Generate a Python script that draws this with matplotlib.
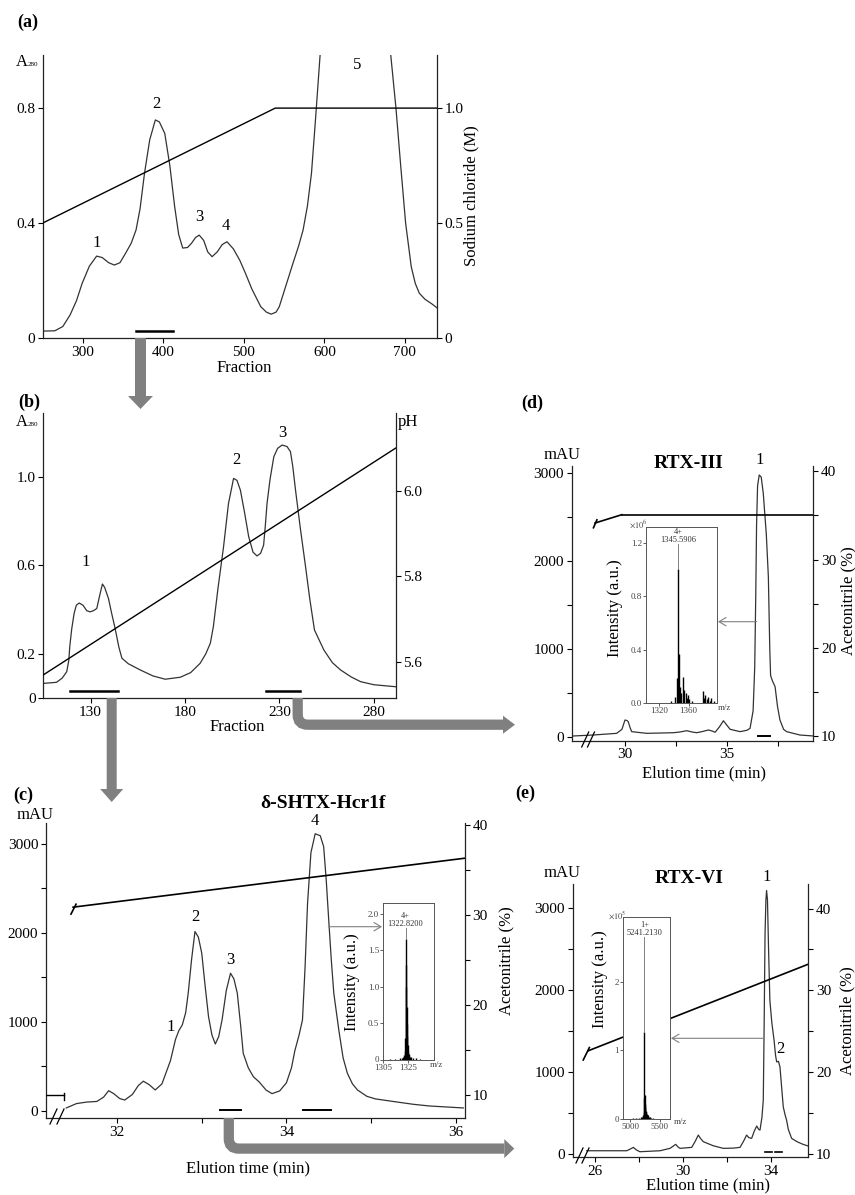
import matplotlib
matplotlib.use('Agg')
import matplotlib.pyplot as plt
from matplotlib.patches import Polygon, PathPatch
from matplotlib.path import Path

plt.rcParams['font.family'] = ['Liberation Serif', 'DejaVu Serif']
plt.rcParams['mathtext.fontset'] = 'stix'

W, H = 855, 1195
GREY = '#808080'
LINE = '#333333'

# ---------------- (a) anion exchange, A280 vs fraction
a_fraction = [250, 265, 275, 284, 292, 299, 308, 317, 324, 332, 339, 346, 353, 360, 366,
              371, 376.5, 383, 390, 395, 401.7, 408, 414, 419, 424, 430, 435, 440, 444.5,
              450, 455, 460.5, 467, 473, 479, 487, 495, 502, 510, 521, 528, 534, 540, 544,
              552, 561, 568, 573.6, 579, 584, 589, 594.6, 600, 620, 660, 682.7, 689, 695,
              701, 708, 713, 718, 725, 733, 740]
a_a280 = [0.024, 0.025, 0.04, 0.08, 0.13, 0.19, 0.25, 0.285, 0.28, 0.262, 0.254, 0.262,
          0.295, 0.33, 0.376, 0.45, 0.573, 0.69, 0.759, 0.752, 0.712, 0.6, 0.457, 0.36,
          0.313, 0.315, 0.33, 0.35, 0.358, 0.34, 0.3, 0.283, 0.3, 0.325, 0.335, 0.31, 0.27,
          0.225, 0.17, 0.109, 0.09, 0.083, 0.09, 0.109, 0.18, 0.26, 0.32, 0.376, 0.46,
          0.573, 0.76, 0.98, 1.2, 1.6, 1.6, 0.98, 0.8, 0.596, 0.4, 0.248, 0.19, 0.156,
          0.135, 0.12, 0.105]
a_nacl_fraction = [250, 539, 740]
a_nacl = [0.5, 1.0, 1.0]
a_peak_names = ['1', '2', '3', '4', '5']
a_peak_x = [317, 391, 445, 478, 641]
a_peak_y = [0.33, 0.815, 0.42, 0.39, 0.95]
a_pool = [366, 412]

# ---------------- (b) cation exchange, A280 vs fraction
b_fraction = [105, 112, 115, 117.4, 118.5, 119, 120, 121.3, 122.5, 124, 126, 128, 129.8,
              131.5, 133.3, 135, 136.3, 137.5, 139.5, 141, 143, 145, 146.6, 150, 156.3, 163,
              169.5, 177.5, 183, 188, 191, 193.4, 195, 197.5, 200.4, 203, 205.7, 207.5,
              209.3, 211.5, 213.7, 216, 218.1, 220, 221.6, 222.5, 223.4, 225, 227, 229,
              231.4, 234, 235.8, 237, 238.5, 241, 243.8, 246, 248.5, 253.5, 258, 262.3, 268,
              272.9, 280, 291.5]
b_a280 = [0.066, 0.071, 0.09, 0.119, 0.17, 0.232, 0.31, 0.383, 0.42, 0.43, 0.42, 0.395,
          0.39, 0.395, 0.405, 0.47, 0.516, 0.5, 0.45, 0.39, 0.315, 0.23, 0.18, 0.155, 0.127,
          0.1, 0.085, 0.094, 0.115, 0.157, 0.2, 0.248, 0.323, 0.5, 0.685, 0.88, 0.994,
          0.985, 0.941, 0.84, 0.73, 0.66, 0.643, 0.655, 0.692, 0.78, 0.88, 0.99, 1.092,
          1.13, 1.145, 1.138, 1.115, 1.05, 0.94, 0.77, 0.594, 0.45, 0.308, 0.217, 0.16,
          0.127, 0.095, 0.074, 0.06, 0.051]
b_ph_fraction = [105, 291.5]
b_ph = [5.57, 6.10]
b_peak_names = ['1', '2', '3']
b_peak_x = [127.5, 207, 231.6]
b_peak_y = [0.615, 1.077, 1.2]
b_pools = [[119.1, 144.4], [223, 241]]

# ---------------- (c) RP-HPLC of d-SHTX-Hcr1f
c_time = [31.40, 31.52, 31.64, 31.76, 31.84, 31.90, 31.96, 32.03, 32.09, 32.18, 32.25, 32.31,
          32.38, 32.45, 32.53, 32.63, 32.69, 32.73, 32.77, 32.81, 32.84, 32.88, 32.92, 32.96,
          33.00, 33.04, 33.08, 33.12, 33.16, 33.20, 33.24, 33.29, 33.34, 33.38, 33.42, 33.46,
          33.49, 33.55, 33.61, 33.68, 33.76, 33.83, 33.92, 34.00, 34.06, 34.10, 34.15, 34.19,
          34.22, 34.25, 34.29, 34.34, 34.40, 34.44, 34.47, 34.50, 34.53, 34.56, 34.62, 34.67,
          34.72, 34.78, 34.84, 34.95, 35.05, 35.26, 35.50, 35.69, 36.09]
c_mau = [29, 78, 95, 102, 150, 223, 190, 135, 118, 180, 280, 330, 290, 231, 300, 560, 800,
         900, 962, 1100, 1319, 1700, 2013, 1950, 1769, 1400, 1056, 850, 748, 830, 1019, 1350,
         1544, 1480, 1319, 950, 644, 480, 380, 320, 230, 190, 220, 311, 480, 673, 850, 1019,
         1600, 2332, 2900, 3112, 3090, 2969, 2600, 2144, 1700, 1319, 900, 592, 420, 300, 231,
         160, 131, 102, 70, 51, 29]
c_grad_time = [31.48, 36.11]
c_grad = [30.87, 36.3]
c_peak_names = ['1', '2', '3', '4']
c_peak_x = [32.63, 32.93, 33.34, 34.34]
c_peak_y = [943, 2174, 1694, 3250]
c_pools = [[33.21, 33.46], [34.2, 34.53]]
c_ms_mz = [1310, 1314, 1318, 1320, 1321, 1321.6, 1322.2, 1322.5, 1322.8, 1323.1, 1323.4,
           1323.7, 1324.0, 1324.3, 1324.6, 1324.9, 1325.3, 1325.8, 1326.5, 1327.5, 1329,
           1331, 1334]
c_ms_int = [0.01, 0.01, 0.015, 0.02, 0.03, 0.06, 0.12, 0.3, 1.65, 1.3, 1.0, 0.72, 0.48,
            0.32, 0.2, 0.12, 0.08, 0.05, 0.04, 0.03, 0.02, 0.015, 0.01]

# ---------------- (d) RTX-III
d_time = [27.46, 28.44, 29.59, 29.85, 30.0, 30.1, 30.16, 30.25, 30.33, 31.07, 32.38, 32.7,
          33.04, 33.3, 33.53, 33.8, 34.1, 34.3, 34.43, 34.65, 34.84, 35.0, 35.17, 35.66, 36.0,
          36.15, 36.3, 36.38, 36.43, 36.47, 36.52, 36.6, 36.7, 36.8, 36.95, 37.05, 37.12,
          37.16, 37.25, 37.38, 37.5, 37.62, 37.8, 37.95, 38.6, 39.26]
d_mau = [15, 26, 45, 90, 196, 190, 177, 110, 64, 45, 52, 60, 75, 60, 52, 65, 83, 70, 57, 120,
         188, 140, 91, 64, 80, 102, 300, 800, 1600, 2400, 2850, 2974, 2950, 2766, 2300, 1821,
         1000, 700, 640, 574, 350, 196, 90, 64, 26, 15]
d_grad_time = [29.84, 39.26]
d_grad = [35.08, 35.08]
d_peak_names = ['1']
d_peak_x = [36.64]
d_peak_y = [3144]
d_pool = [36.56, 37.13]
d_ms_mz = [1337, 1341.7, 1344, 1345.6, 1347, 1349, 1350.5, 1352.7, 1354.5, 1356.3, 1358,
           1359.4, 1361, 1364, 1379.4, 1381, 1382.6, 1384.5, 1386, 1388, 1390.6, 1393.7]
d_ms_int = [0.02, 0.05, 0.19, 1.0, 0.37, 0.12, 0.08, 0.2, 0.1, 0.08, 0.04, 0.06, 0.03, 0.02,
            0.094, 0.04, 0.06, 0.03, 0.05, 0.02, 0.04, 0.02]

# ---------------- (e) RTX-VI
e_time = [25.62, 26.5, 27.44, 27.6, 27.74, 27.88, 28.04, 28.96, 29.41, 29.55, 29.67, 29.78,
          29.87, 30.4, 30.55, 30.7, 30.8, 30.93, 31.38, 31.84, 32.3, 32.6, 32.75, 32.9, 33.0,
          33.13, 33.25, 33.36, 33.45, 33.51, 33.6, 33.66, 33.7, 33.74, 33.78, 33.81, 33.85,
          33.9, 33.96, 34.05, 34.15, 34.22, 34.27, 34.35, 34.42, 34.5, 34.57, 34.65, 34.72,
          34.8, 34.95, 35.2, 35.45, 35.71]
e_mau = [40, 40, 40, 60, 81, 50, 28, 40, 69, 95, 118, 85, 69, 81, 150, 231, 190, 150, 101,
         69, 72, 81, 150, 231, 200, 191, 280, 341, 300, 292, 450, 657, 1600, 2685, 3100, 3212,
         3100, 2500, 1873, 1600, 1387, 1200, 1123, 1130, 1062, 800, 575, 480, 414, 300, 191,
         150, 120, 97]
e_grad_time = [25.69, 35.71]
e_grad = [22.62, 33.2]
e_peak_names = ['1', '2']
e_peak_x = [33.81, 34.42]
e_peak_y = [3373, 1286]
e_pools = [[33.74, 34.05], [34.2, 34.5]]
e_ms_mz = [5050, 5100, 5150, 5180, 5200, 5215, 5225, 5232, 5237, 5241, 5245, 5250, 5255,
           5260, 5266, 5272, 5280, 5290, 5300, 5315, 5330, 5350, 5380]
e_ms_int = [0.01, 0.015, 0.015, 0.02, 0.03, 0.04, 0.06, 0.1, 0.3, 1.27, 0.35, 0.22, 0.18,
            0.14, 0.12, 0.1, 0.07, 0.06, 0.05, 0.03, 0.02, 0.015, 0.01]

TICK = 11
LAB = 12

fig = plt.figure(figsize=(W / 100, H / 100), dpi=100)


def px_axes(l, t, r, b):
    return fig.add_axes([l / W, 1 - b / H, (r - l) / W, (b - t) / H])


def style(ax):
    ax.spines['top'].set_visible(False)
    ax.spines['right'].set_visible(False)
    for s in ax.spines.values():
        s.set_linewidth(0.9)
        s.set_color('#222222')
    ax.tick_params(which='both', direction='out', length=3.5, width=0.8, labelsize=TICK, pad=2)


def twin(ax):
    tw = ax.twinx()
    for s in ['top', 'left', 'bottom']:
        tw.spines[s].set_visible(False)
    tw.spines['right'].set_linewidth(0.9)
    tw.spines['right'].set_color('#222222')
    tw.tick_params(which='both', direction='out', length=3.5, width=0.8, labelsize=TICK, pad=2)
    return tw


def peaks(ax, names, xs, ys):
    for n, x, y in zip(names, xs, ys):
        ax.text(x, y, n, ha='center', va='center', fontsize=12)


# overlay in pixel coordinates for arrows and free text
ov = fig.add_axes([0, 0, 1, 1])
ov.set_xlim(0, W)
ov.set_ylim(H, 0)
ov.axis('off')
ov.set_zorder(20)


def down_arrow(x, y0, y1, sw, hw, hl):
    pts = [(x - sw / 2, y0), (x + sw / 2, y0), (x + sw / 2, y1 - hl), (x + hw / 2, y1 - hl),
           (x, y1), (x - hw / 2, y1 - hl), (x - sw / 2, y1 - hl)]
    ov.add_patch(Polygon(pts, closed=True, facecolor=GREY, edgecolor='none'))


def elbow_arrow(x, y0, yc, x1, hl, hw, r=10):
    p = Path([(x, y0), (x, yc - r), (x, yc), (x + r, yc), (x1 - hl, yc)],
             [Path.MOVETO, Path.LINETO, Path.CURVE3, Path.CURVE3, Path.LINETO])
    ov.add_patch(PathPatch(p, fill=False, edgecolor=GREY, lw=7.4, capstyle='butt'))
    ov.add_patch(Polygon([(x1 - hl, yc - hw / 2), (x1, yc), (x1 - hl, yc + hw / 2)],
                         closed=True, facecolor=GREY, edgecolor='none'))


def otext(x, y, s, **kw):
    kw.setdefault('ha', 'center')
    kw.setdefault('va', 'center')
    ov.text(x, y, s, **kw)


# ================= (a)
axa = px_axes(42.7, 55, 437, 338)
style(axa)
axa.plot(a_fraction, a_a280, color=LINE, lw=0.9)
axa.plot(a_pool, [0.024, 0.024], color='black', lw=1.8)
axa.set_xlim(250, 740)
axa.set_ylim(0, 0.985)
axa.set_xticks([300, 400, 500, 600, 700])
axa.set_yticks([0, 0.4, 0.8])
axa.set_yticklabels(['0', '0.4', '0.8'])
peaks(axa, a_peak_names, a_peak_x, a_peak_y)
axa2 = twin(axa)
axa2.plot(a_nacl_fraction, a_nacl, color='black', lw=1.0)
axa2.set_ylim(0, 1.231)
axa2.set_yticks([0, 0.5, 1.0])
axa2.set_yticklabels(['0', '0.5', '1.0'])

otext(28, 22, '(a)', fontsize=13, fontweight='bold')
otext(22, 62, 'A', fontsize=12)
otext(33, 64, '280', fontsize=5)
otext(244, 368, 'Fraction', fontsize=LAB)
otext(471, 196, 'Sodium chloride (M)', fontsize=LAB, rotation=90)

# ================= (b)
axb = px_axes(43.3, 413, 395.7, 698)
style(axb)
axb.plot(b_fraction, b_a280, color=LINE, lw=0.9)
for pool in b_pools:
    axb.plot(pool, [0.032, 0.032], color='black', lw=1.8)
axb.set_xlim(105, 291.5)
axb.set_ylim(0, 1.29)
axb.set_xticks([130, 180, 230, 280])
axb.set_yticks([0, 0.2, 0.6, 1.0])
axb.set_yticklabels(['0', '0.2', '0.6', '1.0'])
peaks(axb, b_peak_names, b_peak_x, b_peak_y)
axb2 = twin(axb)
axb2.plot(b_ph_fraction, b_ph, color='black', lw=1.0)
axb2.set_ylim(5.516, 6.182)
axb2.set_yticks([5.6, 5.8, 6.0])
axb2.set_yticklabels(['5.6', '5.8', '6.0'])

otext(29, 402, '(b)', fontsize=13, fontweight='bold')
otext(22, 422, 'A', fontsize=12)
otext(33, 424, '280', fontsize=5)
otext(398, 422, 'pH', fontsize=LAB, ha='left')
otext(237, 727, 'Fraction', fontsize=LAB)

# ================= (c)
axc = px_axes(46, 823, 465, 1118)
style(axc)
axc.plot(c_time, c_mau, color=LINE, lw=0.9)
for pool in c_pools:
    axc.plot(pool, [5, 5], color='black', lw=1.4)
axc.set_xlim(31.16, 36.11)
axc.set_ylim(-84, 3233)
axc.set_xticks([32, 34, 36])
axc.set_xticks([33, 35], minor=True)
axc.set_yticks([0, 1000, 2000, 3000])
axc.set_yticks([500, 1500, 2500], minor=True)
peaks(axc, c_peak_names, c_peak_x, c_peak_y)
axc2 = twin(axc)
axc2.plot(c_grad_time, c_grad, color='black', lw=1.2)
axc2.plot([31.515, 31.455], [31.2, 30.1], color='black', lw=1.2)
axc2.plot([31.16, 31.37], [10, 10], color='black', lw=1.0)
axc2.plot([31.37, 31.37], [10.3, 9.5], color='black', lw=1.0)
axc2.set_ylim(7.5, 40.2)
axc2.set_yticks([10, 20, 30, 40])
axc2.set_yticks([15, 25, 35], minor=True)

otext(23, 795, '(c)', fontsize=13, fontweight='bold')
otext(35, 815, 'mAU', fontsize=LAB)
otext(323, 803, 'δ-SHTX-Hcr1f', fontsize=14, fontweight='bold')
otext(248, 1168, 'Elution time (min)', fontsize=LAB)
otext(506, 961, 'Acetonitrile (%)', fontsize=LAB, rotation=90)
otext(352, 982, 'Intensity (a.u.)', fontsize=LAB, rotation=90)

# ================= (d)
axd = px_axes(571.7, 466, 813.3, 740.7)
style(axd)
axd.plot(d_time, d_mau, color=LINE, lw=0.9)
axd.plot(d_pool, [15, 15], color='black', lw=1.4)
axd.set_xlim(27.38, 39.26)
axd.set_ylim(-38.5, 3076)
axd.set_xticks([30, 35])
axd.set_xticks([32.5, 37.5], minor=True)
axd.set_yticks([0, 1000, 2000, 3000])
axd.set_yticks([500, 1500, 2500], minor=True)
peaks(axd, d_peak_names, d_peak_x, d_peak_y)
axd2 = twin(axd)
axd2.plot(d_grad_time, d_grad, color='black', lw=1.2)
axd2.plot([29.84, 28.53], [35.08, 34.14], color='black', lw=1.2)
axd2.plot([28.62, 28.45], [34.5, 33.6], color='black', lw=1.2)
axd2.set_ylim(9.47, 40.6)
axd2.set_yticks([10, 20, 30, 40])
axd2.set_yticks([15, 25, 35], minor=True)

otext(532, 403, '(d)', fontsize=13, fontweight='bold')
otext(562, 455, 'mAU', fontsize=LAB)
otext(689, 463, 'RTX-III', fontsize=14, fontweight='bold')
otext(704, 773, 'Elution time (min)', fontsize=LAB)
otext(848, 601, 'Acetonitrile (%)', fontsize=LAB, rotation=90)
otext(615, 608, 'Intensity (a.u.)', fontsize=LAB, rotation=90)

# ================= (e)
axe = px_axes(572.7, 884, 808.3, 1157.3)
style(axe)
axe.plot(e_time, e_mau, color=LINE, lw=0.9)
for pool in e_pools:
    axe.plot(pool, [28, 28], color='black', lw=1.2)
axe.set_xlim(24.98, 35.71)
axe.set_ylim(-40, 3292)
axe.set_xticks([26, 30, 34])
axe.set_xticks([28, 32], minor=True)
axe.set_yticks([0, 1000, 2000, 3000])
axe.set_yticks([500, 1500, 2500], minor=True)
peaks(axe, e_peak_names, e_peak_x, e_peak_y)
axe2 = twin(axe)
axe2.plot(e_grad_time, e_grad, color='black', lw=1.2)
axe2.plot([25.46, 25.74], [21.49, 23.02], color='black', lw=1.2)
axe2.set_ylim(9.6, 43.0)
axe2.set_yticks([10, 20, 30, 40])
axe2.set_yticks([15, 25, 35], minor=True)

otext(525, 793, '(e)', fontsize=13, fontweight='bold')
otext(562, 873, 'mAU', fontsize=LAB)
otext(689, 878, 'RTX-VI', fontsize=14, fontweight='bold')
otext(708, 1185, 'Elution time (min)', fontsize=LAB)
otext(847, 1021, 'Acetonitrile (%)', fontsize=LAB, rotation=90)
otext(600, 979, 'Intensity (a.u.)', fontsize=LAB, rotation=90)


# ================= mass spectra insets
def inset(box, mz, inten, xlim, ylim, yticks, ylabels, xticks, main_mz, main_top, lbl_y, lbl):
    ax = px_axes(*box)
    ax.set_facecolor('white')
    ax.vlines(mz, 0, inten, color='black', lw=1.0)
    ax.plot([main_mz, main_mz], [main_top, lbl_y], color=GREY, lw=0.7)
    ax.text(main_mz, lbl_y, lbl, ha='center', va='bottom', fontsize=6, color='#333333',
            linespacing=1.0)
    ax.set_xlim(*xlim)
    ax.set_ylim(*ylim)
    ax.set_yticks(yticks)
    ax.set_yticklabels(ylabels)
    ax.set_xticks(xticks)
    for s in ax.spines.values():
        s.set_linewidth(0.7)
        s.set_color('#555555')
    ax.tick_params(direction='out', length=2, width=0.6, labelsize=6.5, pad=1,
                   colors='#444444')
    ax.set_zorder(10)
    return ax


inset((383.3, 903.3, 434.3, 1059.5), c_ms_mz, c_ms_int, (1305, 1345.8), (0, 2.14),
      [0, 0.5, 1.0, 1.5, 2.0], ['0', '0.5', '1.0', '1.5', '2.0'], [1305, 1325],
      1322.8, 1.65, 1.8, '4+\n1322.8200')
inset((646, 526.5, 717, 703.3), d_ms_mz, d_ms_int, (1303, 1398), (0, 1.32),
      [0, 0.4, 0.8, 1.2], ['0.0', '0.4', '0.8', '1.2'], [1320, 1360],
      1345.6, 1.0, 1.19, '4+\n1345.5906')
inset((623.3, 916.7, 670, 1118.8), e_ms_mz, e_ms_int, (4888, 5673), (0, 2.95),
      [0, 1, 2], ['0', '1', '2'], [5000, 5500],
      5241, 1.27, 2.66, '1+\n5241.2130')

otext(436, 1065, 'm/z', fontsize=6.5, color='#444444')
otext(724, 708, 'm/z', fontsize=6.5, color='#444444')
otext(680, 1122, 'm/z', fontsize=6.5, color='#444444')
otext(638, 524, r'$\times10^{6}$', fontsize=6, color='#444444')
otext(617, 915, r'$\times10^{5}$', fontsize=6, color='#444444')

# arrows from peaks to spectra
arr = dict(arrowstyle='->,head_length=0.5,head_width=0.3', color=GREY, lw=0.8,
           shrinkA=0, shrinkB=0)
ov.annotate('', xy=(382, 926.7), xytext=(328.3, 926.7), arrowprops=arr)
ov.annotate('', xy=(718, 621.7), xytext=(756.7, 621.7), arrowprops=arr)
ov.annotate('', xy=(671, 1038.3), xytext=(763.3, 1038.3), arrowprops=arr)

# purification flow arrows
down_arrow(140.5, 338, 409, 11, 25, 13)
down_arrow(111.7, 698, 802, 10, 23, 13)
elbow_arrow(297.7, 698, 724.7, 515, 12, 18)
elbow_arrow(228.8, 1118, 1148.6, 514.3, 10, 19)

# axis breaks
for (x, y) in [(50, 1124), (57, 1124), (581.7, 747), (587.5, 747), (576, 1163), (582, 1163)]:
    ov.plot([x, x + 7], [y, y - 15], color='black', lw=0.9)

fig.savefig('out.png', dpi=100)
